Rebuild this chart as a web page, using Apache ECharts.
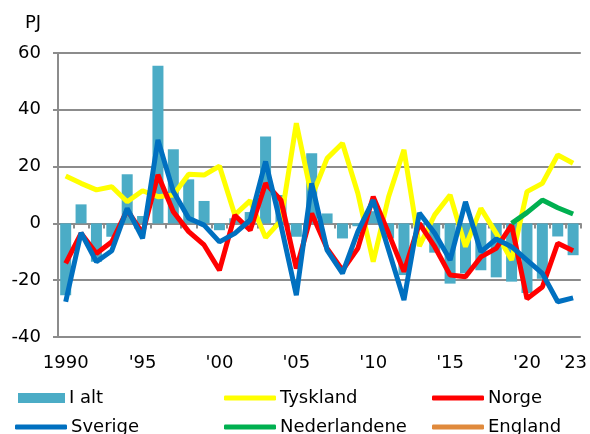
<!DOCTYPE html>
<html><head><meta charset="utf-8">
<script src="https://cdn.jsdelivr.net/npm/echarts@6/dist/echarts.min.js"></script>
<style>html,body{margin:0;padding:0;background:#fff}#c{width:590px;height:434px}</style>
</head><body><div id="c"></div>
<script>
const years = [1990,1991,1992,1993,1994,1995,1996,1997,1998,1999,2000,2001,2002,2003,2004,2005,2006,2007,2008,2009,2010,2011,2012,2013,2014,2015,2016,2017,2018,2019,2020,2021,2022,2023];
const xLabels = ['1990','','','','',"'95",'','','','',"'00",'','','','',"'05",'','','','',"'10",'','','','',"'15",'','','','',"'20",'','',"'23"];
const yTicks = [-40,-20,0,20,40,60];
const iAlt = [-25.3,6.7,-13.5,-4.7,17.3,2.6,55.5,26.1,15.5,7.9,-2.4,1.8,4,30.6,10,-4.7,24.7,3.5,-5.3,-1,4.3,-5.3,-18.2,-2,-10.3,-21.2,-17.6,-16.5,-19,-20.5,-24.5,-19.5,-4.6,-11.2];
const tyskland = [16.7,14.1,11.8,12.9,7.6,11.5,9.4,10,17.3,17,20.2,3,8,-5,1,35.3,9.4,22.9,28.2,10.6,-13.5,9.4,25.9,-8,3,10,-8.2,5.3,-3.5,-12.9,11.2,14.1,24.1,21.2];
const norge = [-14.1,-3.5,-10.6,-6.5,4.7,-3.5,17.1,4.1,-2.9,-7.6,-16.5,2.9,-2.4,14.1,8.2,-15.9,3.5,-8.8,-16.5,-8.8,9.4,-3.5,-17,0,-8.2,-18.2,-18.8,-11.8,-8.8,-0.6,-26.5,-22.4,-7,-9.6];
const sverige = [-27.6,-3.3,-13.5,-9.6,5.3,-5.3,29.4,11.2,1.8,-0.6,-6.5,-3.5,1.2,21.8,-0.6,-25.3,14.1,-9.4,-17.6,-2.9,8.2,-9.4,-27,3.7,-3.5,-12.9,7.6,-10,-5.5,-8.2,-12.9,-17.6,-27.6,-26.2];
const nederlandene = [null,null,null,null,null,null,null,null,null,null,null,null,null,null,null,null,null,null,null,null,null,null,null,null,null,null,null,null,null,0,3.8,8.2,5.5,3.3];
const england = years.map(() => null);

const FONT = 'DejaVu Sans';
const GRAY = '#8c8c8c';
const chart = echarts.init(document.getElementById('c'), null, {renderer:'canvas'});
const txt = {fontFamily: FONT, fontSize: 18, color: '#000'};
function lg(name, left, top, icon, w, h) {
  return {data:[name], left:left, top:top, icon:icon, itemWidth:w, itemHeight:h, itemGap:0,
    textStyle:Object.assign({}, txt, {padding:[0,0,0,-1]}), selectedMode:false};
}
function line(name, data, color) {
  return {name, type:'line', data, showSymbol:false, symbol:'none', connectNulls:false,
    lineStyle:{color, width:5}, itemStyle:{color}, animation:false};
}
chart.setOption({
  animation:false,
  title:{text:'PJ', left:20, top:9, textStyle:Object.assign({}, txt, {fontWeight:'normal'})},
  grid:{left:58, right:7, top:53, bottom:97, containLabel:false},
  legend:[
    lg('I alt', 13, 384, 'rect', 47, 10),
    lg('Tyskland', 219, 384, 'roundRect', 52, 5),
    lg('Norge', 427, 384, 'roundRect', 52, 5),
    lg('Sverige', 10, 413, 'roundRect', 52, 5),
    lg('Nederlandene', 219, 413, 'roundRect', 52, 5),
    lg('England', 427, 413, 'roundRect', 52, 5)
  ],
  xAxis:[
    {type:'category', data:years, position:'bottom',
     axisLine:{show:false, onZero:false}, axisTick:{show:false},
     axisLabel:Object.assign({}, txt, {interval:0, margin:17, formatter:(v,i)=>xLabels[i]}),
     splitLine:{show:false}},
    {type:'category', data:years, position:'bottom',
     axisLine:{show:true, onZero:true, lineStyle:{color:GRAY, width:2}},
     axisTick:{show:true, length:5, interval:0, lineStyle:{color:GRAY, width:2}},
     axisLabel:{show:false}, splitLine:{show:false}}
  ],
  yAxis:{type:'value', min:yTicks[0], max:yTicks[yTicks.length-1], interval:20,
    axisLine:{show:true, lineStyle:{color:GRAY, width:2}},
    axisTick:{show:true, length:5, lineStyle:{color:GRAY, width:2}},
    axisLabel:Object.assign({}, txt, {margin:17}),
    splitLine:{show:true, lineStyle:{color:GRAY, width:2}}},
  series:[
    {name:'I alt', type:'bar', data:iAlt, barWidth:11, itemStyle:{color:'#4bacc6'}, animation:false},
    line('Tyskland', tyskland, '#ffff00'),
    line('Norge', norge, '#ff0000'),
    line('Sverige', sverige, '#0070c0'),
    line('Nederlandene', nederlandene, '#00b050'),
    line('England', england, '#e08a3c')
  ]
});
</script></body></html>
